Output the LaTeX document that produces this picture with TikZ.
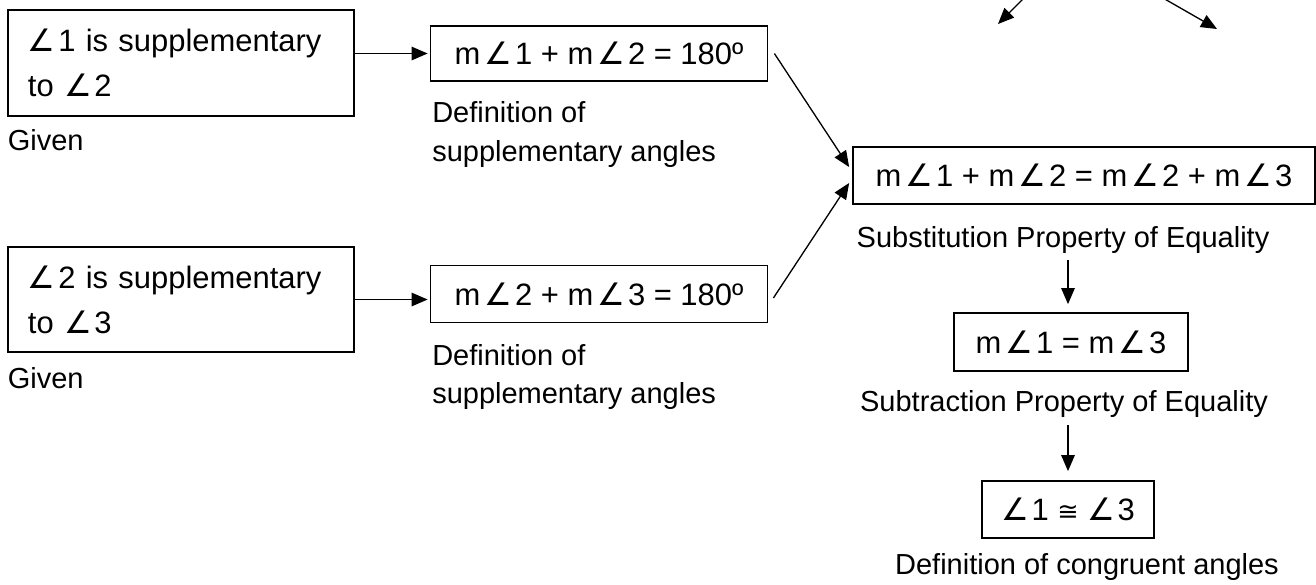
\documentclass[tikz,border=0pt]{standalone}
\usepackage{fontspec}
\setmainfont{Liberation Sans}
\newfontfamily\symfont{DejaVu Sans}
\usetikzlibrary{arrows.meta,positioning}
\newcommand{\ang}{{\symfont ∠}\hspace{1.5pt}}
\newcommand{\mang}{m\hspace{2.5pt}\ang}
\newcommand{\congsym}{{\symfont\fontsize{14.5}{14.5}\selectfont ≅}}

\begin{document}
\begin{tikzpicture}[>={Triangle[length=0.32cm,width=0.27cm]}, line width=0.75pt,
  stmt/.style={draw, line width=1pt, inner sep=0pt, font=\fontsize{17.6}{25.6}\selectfont},
  reason/.style={inner sep=0pt, align=left, font=\fontsize{16.5}{22}\selectfont}]
  \useasboundingbox (0,0) rectangle (26.32,-11.68);
  % given statements
  \node[stmt, minimum width=6.92cm, minimum height=2.12cm, text width=6.12cm, align=left] (G1) at (3.62,-1.26) {\ang1 is supplementary\\to \ang2};
  \node[stmt, minimum width=6.92cm, minimum height=2.10cm, text width=6.12cm, align=left] (G2) at (3.62,-5.99) {\ang2 is supplementary\\to \ang3};
  \node[reason, below right=0.24cm and 0cm of G1.south west] (G1r) {Given};
  \node[reason, below right=0.28cm and 0cm of G2.south west] (G2r) {Given};
  % sums
  \node[stmt, minimum width=6.74cm, minimum height=1.10cm] (S1) at (11.98,-1.07) {\mang1 + \mang2 = 180º};
  \node[stmt, minimum width=6.74cm, minimum height=1.14cm] (S2) at (11.98,-5.88) {\mang2 + \mang3 = 180º};
  \node[reason, below right=0.38cm and 0.04cm of S1.south west] (S1r) {Definition of\\supplementary angles};
  \node[reason, below right=0.40cm and 0.04cm of S2.south west] (S2r) {Definition of\\supplementary angles};
  % chain on the right
  \node[stmt, minimum width=9.24cm, minimum height=1.14cm] (Sub) at (21.68,-3.51) {\mang1 + \mang2 = \mang2 + \mang3};
  \node[reason, below=0.42cm of Sub.south, xshift=-0.42cm] (Subr) {Substitution Property of Equality};
  \node[stmt, minimum width=4.68cm, minimum height=1.16cm] (Eq) at (21.42,-6.84) {\mang1 = \mang3};
  \node[reason, below=0.36cm of Eq.south, xshift=-0.14cm] (Eqr) {Subtraction Property of Equality};
  \node[stmt, minimum width=3.44cm, minimum height=1.14cm] (Cong) at (21.36,-10.19) {\ang1 \congsym\ \ang3};
  \node[reason, below=0.28cm of Cong.south, xshift=0.38cm] (Congr) {Definition of congruent angles};
  % cut-off arrows at the top
  \coordinate (cutL) at (20.48,0.04);
  \coordinate (tipL) at (19.96,-0.48);
  \coordinate (cutR) at (23.26,0.04);
  \coordinate (tipR) at (24.34,-0.58);
  \draw[->] (cutL) -- (tipL);
  \draw[->] (cutR) -- (tipR);
  % connectors
  \draw[->] (G1.east |- S1.west) -- ([xshift=-0.04cm]S1.west);
  \draw[->] (G2.east) -- ([xshift=-0.04cm]G2.east -| S2.west);
  \draw[->] ([xshift=0.12cm]S1.east) -- ([xshift=-0.06cm,yshift=0.17cm]Sub.west);
  \draw[->] ([xshift=0.1cm,yshift=-0.08cm]S2.east) -- ([xshift=-0.06cm,yshift=-0.15cm]Sub.west);
  \draw[->, shorten <=0.12cm, shorten >=0.16cm] (Subr.south -| Cong.north) -- (Eq.north -| Cong.north);
  \draw[->, shorten <=0.14cm, shorten >=0.18cm] (Eqr.south -| Cong.north) -- (Cong.north);
\end{tikzpicture}
\end{document}
